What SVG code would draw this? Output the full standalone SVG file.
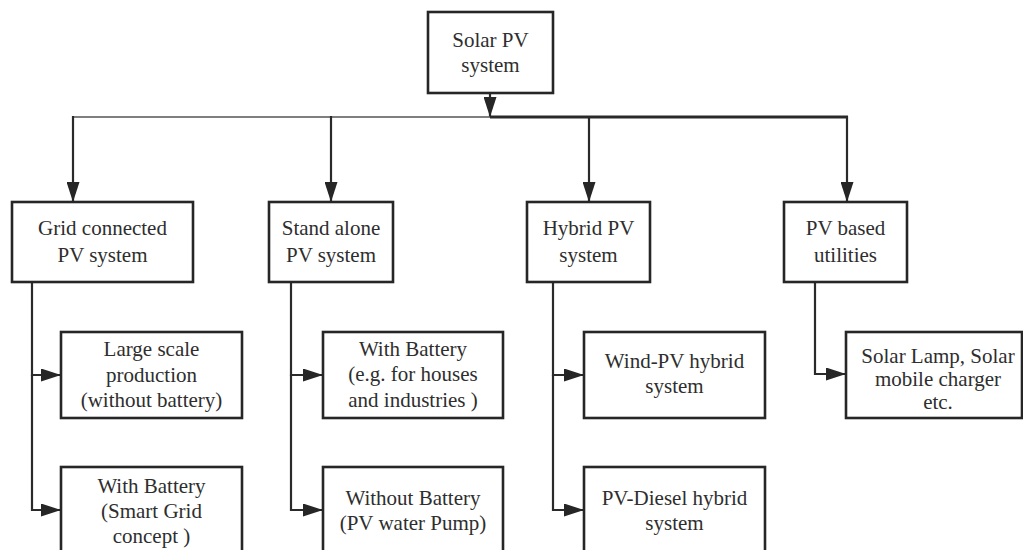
<svg xmlns="http://www.w3.org/2000/svg" width="1023" height="550" viewBox="0 0 1023 550">
<style>
.box{fill:#fff;stroke:#262626;stroke-width:2.6}
text{font-family:"Liberation Serif","DejaVu Serif","Times New Roman",Tinos,"Noto Serif","Nimbus Roman","FreeSerif",Georgia,serif;font-size:21px;fill:#2e2e2e;text-anchor:middle}
.c{fill:none;stroke:#2a2a2a;stroke-width:2.2}
</style>
<defs>
<marker id="ah" markerUnits="userSpaceOnUse" markerWidth="20" markerHeight="13" refX="20" refY="6.5" orient="auto">
<path d="M0,0 L20,6.5 L0,13 z" fill="#262626"/>
</marker>
</defs>
<rect width="1023" height="550" fill="#fff"/>
<g id="connectors">
<line class="c" x1="490" y1="93" x2="490" y2="117" marker-end="url(#ah)"/>
<line class="c" x1="73" y1="117" x2="490" y2="117" style="stroke:#555;stroke-width:1.6"/>
<line class="c" x1="490" y1="117" x2="848" y2="117" style="stroke-width:2.8"/>
<line class="c" x1="73" y1="116" x2="73" y2="202" marker-end="url(#ah)"/>
<line class="c" x1="331" y1="116" x2="331" y2="202" marker-end="url(#ah)"/>
<line class="c" x1="589" y1="116" x2="589" y2="202" marker-end="url(#ah)"/>
<line class="c" x1="847" y1="116" x2="847" y2="202" marker-end="url(#ah)"/>
<path class="c" d="M32,282 V375 H61" marker-end="url(#ah)"/>
<path class="c" d="M32,375 V510 H61" marker-end="url(#ah)"/>
<path class="c" d="M291,282 V375 H323" marker-end="url(#ah)"/>
<path class="c" d="M291,375 V510 H323" marker-end="url(#ah)"/>
<path class="c" d="M553,282 V375 H584" marker-end="url(#ah)"/>
<path class="c" d="M553,375 V510 H584" marker-end="url(#ah)"/>
<path class="c" d="M815,282 V374 H846" marker-end="url(#ah)"/>
</g>
<g id="root">
<rect class="box" x="428" y="12" width="125" height="81"/>
<text x="490.5" y="47">Solar PV</text>
<text x="490.5" y="72">system</text>
</g>
<g id="grid">
<rect class="box" x="12" y="202" width="181" height="80"/>
<text x="102.5" y="235">Grid connected</text>
<text x="102.5" y="262">PV system</text>
</g>
<g id="standalone">
<rect class="box" x="269" y="202" width="124" height="80"/>
<text x="331" y="235">Stand alone</text>
<text x="331" y="262">PV system</text>
</g>
<g id="hybrid">
<rect class="box" x="527" y="202" width="123" height="80"/>
<text x="588.5" y="235">Hybrid PV</text>
<text x="588.5" y="262">system</text>
</g>
<g id="utilities">
<rect class="box" x="784" y="202" width="123" height="80"/>
<text x="845.5" y="235">PV based</text>
<text x="845.5" y="262">utilities</text>
</g>
<g id="large">
<rect class="box" x="61" y="332" width="181" height="86"/>
<text x="151.5" y="356">Large scale</text>
<text x="151.5" y="382">production</text>
<text x="151.5" y="407">(without battery)</text>
</g>
<g id="smartgrid">
<rect class="box" x="61" y="467" width="181" height="100"/>
<text x="151.5" y="493">With Battery</text>
<text x="151.5" y="518">(Smart Grid</text>
<text x="151.5" y="543">concept )</text>
</g>
<g id="withbattery">
<rect class="box" x="323" y="332" width="180" height="86"/>
<text x="413" y="356">With Battery</text>
<text x="413" y="381">(e.g. for houses</text>
<text x="413" y="407">and industries )</text>
</g>
<g id="withoutbattery">
<rect class="box" x="323" y="467" width="180" height="100"/>
<text x="413" y="505">Without Battery</text>
<text x="413" y="530">(PV water Pump)</text>
</g>
<g id="windpv">
<rect class="box" x="584" y="332" width="181" height="86"/>
<text x="674.5" y="368">Wind-PV hybrid</text>
<text x="674.5" y="393">system</text>
</g>
<g id="pvdiesel">
<rect class="box" x="584" y="467" width="181" height="100"/>
<text x="674.5" y="505">PV-Diesel hybrid</text>
<text x="674.5" y="530">system</text>
</g>
<g id="lamp">
<rect class="box" x="846" y="332" width="176" height="86"/>
<text x="938" y="363">Solar Lamp, Solar</text>
<text x="938" y="386">mobile charger</text>
<text x="938" y="409">etc.</text>
</g>
</svg>
